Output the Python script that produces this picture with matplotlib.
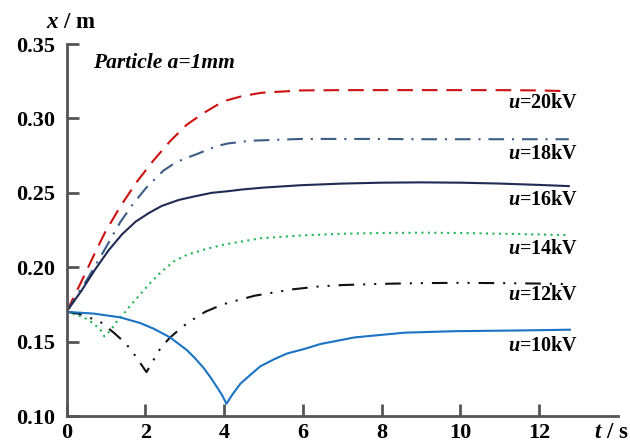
import matplotlib
matplotlib.use("Agg")
import matplotlib.pyplot as plt

plt.rcParams['font.family'] = ['Liberation Serif', 'DejaVu Serif']
plt.rcParams['mathtext.fontset'] = 'custom'
plt.rcParams['mathtext.it'] = 'Liberation Serif:italic:bold'
plt.rcParams['mathtext.rm'] = 'Liberation Serif:bold'
plt.rcParams['mathtext.bf'] = 'Liberation Serif:bold'

# ---- data ----
t20 = [0, 0.39, 0.73, 0.98, 1.36, 1.78, 2.20, 2.63, 3.05, 3.47, 3.98, 4.45, 4.94, 5.95, 7, 8, 9, 10, 11, 12, 12.75]
x20 = [0.170, 0.191, 0.210, 0.2235, 0.2405, 0.2572, 0.2715, 0.2847, 0.2957, 0.3034, 0.3115, 0.3149, 0.3172, 0.3188, 0.319, 0.319, 0.319, 0.319, 0.319, 0.3188, 0.3183]

t18 = [0, 0.53, 0.95, 1.37, 1.70, 2.04, 2.46, 2.71, 2.96, 3.30, 3.81, 4.11, 4.68, 5.95, 7, 8, 9, 10, 11, 12, 12.75]
x18 = [0.170, 0.192, 0.211, 0.2305, 0.2429, 0.2539, 0.2649, 0.2693, 0.2726, 0.2759, 0.2814, 0.2832, 0.2850, 0.2862, 0.2862, 0.2862, 0.286, 0.286, 0.286, 0.286, 0.286]

t16 = [0, 0.39, 0.73, 1.07, 1.41, 1.75, 2.09, 2.42, 2.85, 3.27, 3.69, 4.11, 4.45, 5.0, 5.95, 7, 8, 9, 10, 11, 12, 12.75]
x16 = [0.170, 0.1846, 0.1986, 0.2114, 0.2221, 0.2305, 0.2364, 0.2412, 0.2452, 0.2477, 0.2500, 0.2511, 0.2522, 0.2535, 0.2551, 0.2562, 0.2568, 0.257, 0.2568, 0.2562, 0.2553, 0.2545]

t14 = [0, 0.19, 0.44, 0.70, 0.87, 0.96, 1.12, 1.29, 1.46, 1.63, 1.88, 2.14, 2.39, 2.73, 3.07, 3.58, 4.0, 4.94, 5.95, 7, 8, 9, 10, 11, 12, 12.75]
x14 = [0.170, 0.1685, 0.1663, 0.1619, 0.1576, 0.1535, 0.1576, 0.164, 0.169, 0.1745, 0.182, 0.1898, 0.1965, 0.204, 0.2085, 0.2125, 0.2152, 0.2195, 0.2213, 0.2225, 0.223, 0.2232, 0.223, 0.2225, 0.222, 0.2215]

t12 = [0, 0.36, 0.87, 1.2, 1.49, 1.66, 1.79, 2.03, 2.19, 2.31, 2.46, 2.63, 2.89, 3.1, 3.31, 3.52, 3.86, 4.08, 4.77, 5.7, 6.38, 7, 8, 9, 10, 11, 12, 12.75]
x12 = [0.170, 0.1685, 0.163, 0.156, 0.1491, 0.1437, 0.1388, 0.1295, 0.1366, 0.1427, 0.1478, 0.1528, 0.1587, 0.1631, 0.1665, 0.170, 0.1738, 0.1759, 0.1808, 0.185, 0.187, 0.188, 0.1888, 0.1893, 0.1895, 0.1893, 0.189, 0.1887]

t10 = [0, 0.7, 1.36, 1.87, 2.21, 2.63, 2.85, 3.06, 3.27, 3.48, 3.65, 3.82, 3.95, 4.06, 4.2, 4.41, 4.67, 4.92, 5.26, 5.6, 6.03, 6.45, 7.31, 8.58, 9.86, 11.55, 12.78]
x10 = [0.170, 0.1688, 0.1663, 0.1625, 0.1587, 0.1528, 0.1484, 0.1442, 0.1386, 0.1323, 0.1262, 0.1194, 0.1140, 0.1082, 0.1140, 0.1216, 0.1277, 0.1334, 0.1380, 0.1420, 0.1450, 0.1484, 0.1528, 0.1560, 0.1570, 0.1575, 0.1580]

labels = ['20kV', '18kV', '16kV', '14kV', '12kV', '10kV']
label_y = [0.3104, 0.2759, 0.2452, 0.2122, 0.1813, 0.1470]
xticks = [0, 2, 4, 6, 8, 10, 12]
yticks = [0.10, 0.15, 0.20, 0.25, 0.30, 0.35]

# ---- figure ----
fig = plt.figure(figsize=(6.3, 4.43), dpi=100)
ax = fig.add_axes([66.5/630, 1-416/443, (618-66.5)/630, (416-44)/443])

lw = 1.5
ax.plot(t20, x20, color='#cc1111', lw=lw, dashes=(7.5, 4.3))
ax.plot(t18, x18, color='#3b5d85', lw=lw, dashes=(7.5, 3.8, 1, 3.8))
ax.plot(t16, x16, color='#1f2a55', lw=lw)
ax.plot(t14, x14, color='#22b55a', lw=lw, dashes=(1, 2.1))
ax.plot(t12, x12, color='#111111', lw=lw, dashes=(7.5, 4.3, 1, 4.3, 1, 4.3))
ax.plot(t10, x10, color='#1a73c4', lw=lw)

ax.set_xlim(0, 14)
ax.set_ylim(0.10, 0.35)
ax.set_xticks(xticks)
ax.set_xticklabels([str(v) for v in xticks])
ax.set_yticks(yticks)
ax.set_yticklabels(['%.2f' % v for v in yticks])

axc = '#555555'
for s in ['top', 'right']:
    ax.spines[s].set_visible(False)
for s in ['left', 'bottom']:
    ax.spines[s].set_color(axc)
    ax.spines[s].set_linewidth(2.0)
ax.tick_params(axis='both', direction='in', length=8.5, width=2.0, color=axc,
               labelsize=16, labelcolor='black')
ax.tick_params(axis='y', pad=8)
ax.tick_params(axis='x', pad=5)
for lab in ax.get_xticklabels() + ax.get_yticklabels():
    lab.set_fontweight('bold')

for lbl, yv in zip(labels, label_y):
    ax.text(11.2, yv, r'$u$=' + lbl, fontsize=14.5, fontweight='bold',
            ha='left', va='center')

ax.text(0.68, 0.337, 'Particle a=1mm', fontsize=15.5, fontweight='bold',
        fontstyle='italic', ha='left', va='center')

fig.text(71/630, 1-23/443, r'$x$ / m', fontsize=16.5, fontweight='bold',
         ha='center', va='center')
fig.text(611/630, 1-433/443, r'$t$ / s', fontsize=16.5, fontweight='bold',
         ha='center', va='center')

fig.savefig('out.png', dpi=100)
